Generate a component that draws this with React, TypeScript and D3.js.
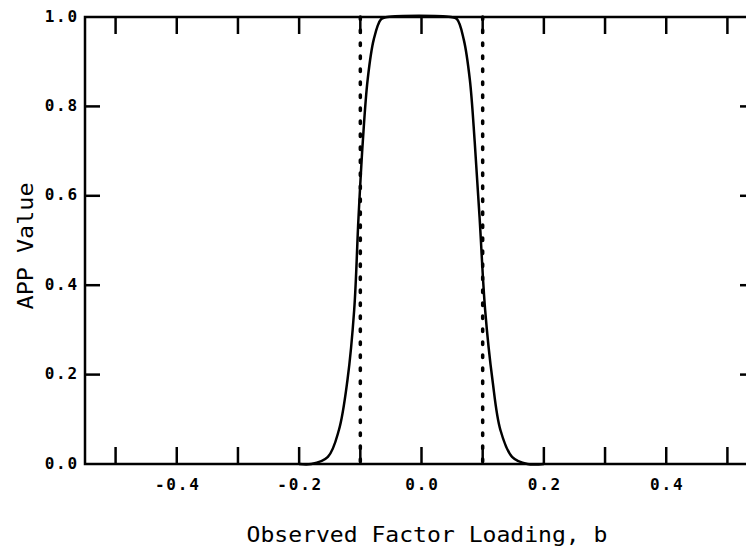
import React from "react";
import * as d3 from "d3";

const curveX = [-0.2, -0.18, -0.153, -0.135, -0.121, -0.11, -0.103, -0.096, -0.088, -0.078, -0.066, -0.056, 0.048, 0.058, 0.069, 0.079, 0.087, 0.095, 0.104, 0.116, 0.129, 0.148, 0.173, 0.2];
const curveY = [0, 0, 0.016, 0.076, 0.188, 0.345, 0.55, 0.72, 0.86, 0.95, 0.995, 1.0, 1.0, 0.995, 0.95, 0.86, 0.72, 0.55, 0.345, 0.188, 0.076, 0.016, 0, 0];
const cutoffs = [-0.1, 0.1];
const xTicks = [-0.5, -0.4, -0.3, -0.2, -0.1, 0.0, 0.1, 0.2, 0.3, 0.4, 0.5];
const xTickLabels = [-0.4, -0.2, 0.0, 0.2, 0.4];
const yTicks = [0.2, 0.4, 0.6, 0.8];
const yTickLabels = [0.0, 0.2, 0.4, 0.6, 0.8, 1.0];

const W = 746, H = 556;

export default function App() {
  const x = d3.scaleLinear().domain([-0.55, 0.55]).range([85, 758]);
  const y = d3.scaleLinear().domain([0, 1]).range([464, 17]);
  const pts: [number, number][] = curveX.map((v, i) => [v, curveY[i]]);
  const line = d3.line<[number, number]>().x(d => x(d[0])).y(d => y(d[1])).curve(d3.curveCatmullRom.alpha(0.5));
  const tickFont = { fontFamily: "DejaVu Sans Mono", fontSize: 16, fontWeight: "bold" as const, letterSpacing: 1.8 };
  const titleFont = { fontFamily: "DejaVu Sans Mono", fontSize: 22 };
  const sw = 2.5;
  return (
    <svg width={W} height={H} style={{ position: "absolute", left: 0, top: 0, background: "#fff" }}>
      <rect x={0} y={0} width={W} height={H} fill="#fff" />
      <rect x={x(-0.55)} y={y(1)} width={x(0.55) - x(-0.55)} height={y(0) - y(1)} fill="none" stroke="#000" strokeWidth={sw} />
      {xTicks.map(t => (
        <g key={"xt" + t}>
          <line x1={x(t)} x2={x(t)} y1={y(0)} y2={y(0) - 17} stroke="#000" strokeWidth={sw} />
          <line x1={x(t)} x2={x(t)} y1={y(1)} y2={y(1) + 17} stroke="#000" strokeWidth={sw} />
        </g>
      ))}
      {yTicks.map(t => (
        <g key={"yt" + t}>
          <line x1={x(-0.55)} x2={x(-0.55) + 15} y1={y(t)} y2={y(t)} stroke="#000" strokeWidth={sw} />
          <line x1={x(0.55)} x2={x(0.55) - 18} y1={y(t)} y2={y(t)} stroke="#000" strokeWidth={sw} />
        </g>
      ))}
      {xTickLabels.map(t => (
        <text key={"xl" + t} x={x(t) + 1} y={490} textAnchor="middle" {...tickFont}>{t.toFixed(1)}</text>
      ))}
      {yTickLabels.map(t => (
        <text key={"yl" + t} x={79} y={y(t)} textAnchor="end" dominantBaseline="middle" {...tickFont}>{t.toFixed(1)}</text>
      ))}
      {cutoffs.map(c => (
        <line key={"c" + c} x1={x(c)} x2={x(c)} y1={y(1)} y2={y(0)} stroke="#000" strokeWidth={3.5} strokeDasharray="2.5 10.5" strokeLinecap="round" />
      ))}
      <path d={line(pts) || ""} fill="none" stroke="#000" strokeWidth={2.5} />
      <text x={427} y={542} textAnchor="middle" textLength={361} lengthAdjust="spacingAndGlyphs" {...titleFont}>Observed Factor Loading, b</text>
      <text transform={`translate(33,246) rotate(-90)`} textAnchor="middle" textLength={127} lengthAdjust="spacingAndGlyphs" {...titleFont}>APP Value</text>
    </svg>
  );
}
